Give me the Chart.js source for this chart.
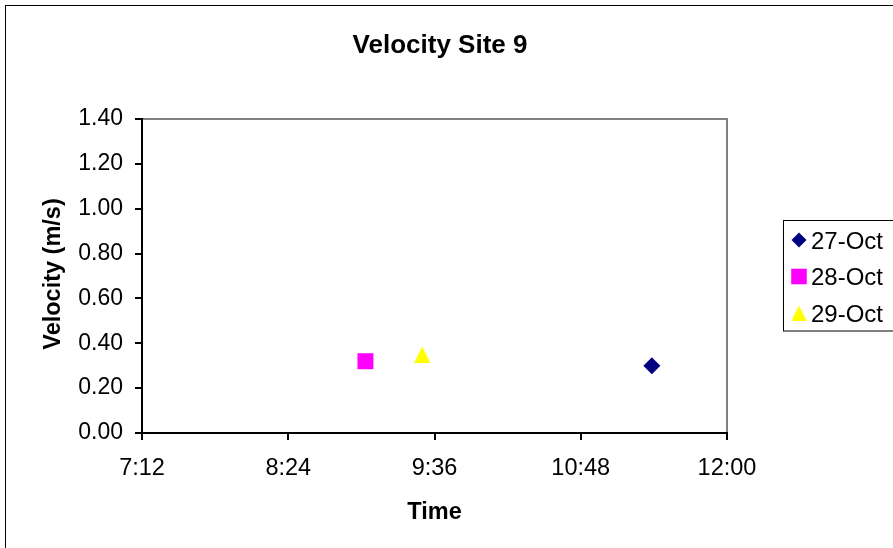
<!DOCTYPE html>
<html>
<head>
<meta charset="utf-8">
<script src="https://cdn.jsdelivr.net/npm/chart.js@4.4.1/dist/chart.umd.min.js"></script>
<style>
  html, body { margin: 0; padding: 0; background: #fff; }
  canvas { display: block; }
</style>
</head>
<body>
<canvas id="c" width="893" height="548"></canvas>
<script>
// Velocity readings at site 9, one reading per day
const seriesLabels = ['27-Oct', '28-Oct', '29-Oct'];
const readingTimes = ['11:23', '9:02', '9:30'];
const velocities = [0.30, 0.32, 0.35];

// Axis ranges and tick labels
const timeTickLabels = ['7:12', '8:24', '9:36', '10:48', '12:00'];
const velocityTicks = [0.00, 0.20, 0.40, 0.60, 0.80, 1.00, 1.20, 1.40];

const seriesColors = ['#000080', '#FF00FF', '#FFFF00'];

const FONT = "'Liberation Sans', Arial, sans-serif";

// Triangle marker centred on its bounding box
function triangleMarker(size, color) {
  const c = document.createElement('canvas');
  c.width = size;
  c.height = size;
  const g = c.getContext('2d');
  g.fillStyle = color;
  g.beginPath();
  g.moveTo(size / 2, 0);
  g.lineTo(size, size);
  g.lineTo(0, size);
  g.closePath();
  g.fill();
  return c;
}

const seriesStyles = ['rectRot', 'rect', triangleMarker(16, seriesColors[2])];
const seriesRadius = [8.5, 11.3, 8];
const legendStyles = ['rectRot', 'rect', triangleMarker(15, seriesColors[2])];
const legendRadius = [7.5, 11, 7.5];

function toMinutes(t) {
  const [h, m] = t.split(':').map(Number);
  return h * 60 + m;
}
function fmtTime(min) {
  const h = Math.floor(min / 60);
  const m = Math.round(min - h * 60);
  return h + ':' + String(m).padStart(2, '0');
}

const xMin = toMinutes(timeTickLabels[0]);
const xMax = toMinutes(timeTickLabels[timeTickLabels.length - 1]);

const datasets = seriesLabels.map((label, i) => ({
  label,
  data: [{ x: toMinutes(readingTimes[i]), y: velocities[i] }],
  pointStyle: seriesStyles[i],
  pointRadius: seriesRadius[i],
  pointHoverRadius: seriesRadius[i],
  backgroundColor: seriesColors[i],
  borderColor: seriesColors[i],
  borderWidth: 0,
  showLine: false
}));

// Frame, plot border, titles and legend
const decorations = {
  id: 'decorations',
  beforeDraw(chart) {
    const ctx = chart.ctx;
    const a = chart.chartArea;
    ctx.save();
    ctx.fillStyle = '#fff';
    ctx.fillRect(0, 0, chart.width, chart.height);
    // outer frame
    ctx.strokeStyle = '#000';
    ctx.lineWidth = 1;
    ctx.strokeRect(5.5, 5.5, 1000, 1000);
    // plot area border
    ctx.strokeStyle = '#808080';
    ctx.lineWidth = 2;
    ctx.strokeRect(a.left, a.top, a.right - a.left, a.bottom - a.top);
    ctx.restore();
  },
  afterDraw(chart) {
    const ctx = chart.ctx;
    const a = chart.chartArea;
    ctx.save();
    ctx.fillStyle = '#000';
    ctx.textAlign = 'center';
    ctx.textBaseline = 'alphabetic';

    ctx.font = 'bold 26px ' + FONT;
    ctx.fillText('Velocity Site 9', 440, 53);

    ctx.font = 'bold 23.5px ' + FONT;
    ctx.fillText('Time', (a.left + a.right) / 2, 519);

    ctx.save();
    ctx.translate(60, (a.top + a.bottom) / 2 - 2);
    ctx.rotate(-Math.PI / 2);
    ctx.fillText('Velocity (m/s)', 0, 0);
    ctx.restore();

    // legend
    ctx.strokeStyle = '#000';
    ctx.lineWidth = 1;
    ctx.strokeRect(783.5, 220.5, 200, 110.5);
    const rowY = [240, 276.5, 313];
    ctx.font = '24px ' + FONT;
    ctx.textAlign = 'left';
    seriesLabels.forEach((label, i) => {
      ctx.fillStyle = seriesColors[i];
      Chart.helpers.drawPoint(ctx, {
        pointStyle: legendStyles[i],
        radius: legendRadius[i],
        rotation: 0,
        borderWidth: 0
      }, 799, rowY[i]);
      ctx.fillStyle = '#000';
      ctx.fillText(label, 811, rowY[i] + 8.5);
    });
    ctx.restore();
  }
};

new Chart(document.getElementById('c'), {
  type: 'scatter',
  data: { datasets },
  plugins: [decorations],
  options: {
    responsive: false,
    animation: false,
    devicePixelRatio: 1,
    layout: { padding: { top: 119, right: 166, left: 0, bottom: 0 } },
    plugins: {
      legend: { display: false },
      title: { display: false },
      tooltip: { enabled: false }
    },
    scales: {
      x: {
        type: 'linear',
        position: 'bottom',
        min: xMin,
        max: xMax,
        afterBuildTicks(scale) {
          scale.ticks = timeTickLabels.map(t => ({ value: toMinutes(t) }));
        },
        ticks: {
          autoSkip: false,
          maxRotation: 0,
          padding: 14,
          color: '#000',
          font: { family: FONT, size: 23.5 },
          callback: (v) => fmtTime(v)
        },
        grid: { drawOnChartArea: false, drawTicks: true, tickLength: 7, color: '#000', lineWidth: 2 },
        border: { display: true, color: '#000', width: 2 },
        afterFit(scale) { scale.height = 115; }
      },
      y: {
        type: 'linear',
        position: 'left',
        min: velocityTicks[0],
        max: velocityTicks[velocityTicks.length - 1],
        afterBuildTicks(scale) {
          scale.ticks = velocityTicks.map(v => ({ value: v }));
        },
        ticks: {
          padding: 12,
          color: '#000',
          font: { family: FONT, size: 23 },
          callback: (v) => Number(v).toFixed(2)
        },
        grid: { drawOnChartArea: false, drawTicks: true, tickLength: 7, color: '#000', lineWidth: 2 },
        border: { display: true, color: '#000', width: 2 },
        afterFit(scale) { scale.width = 142; }
      }
    }
  }
});
</script>
</body>
</html>
